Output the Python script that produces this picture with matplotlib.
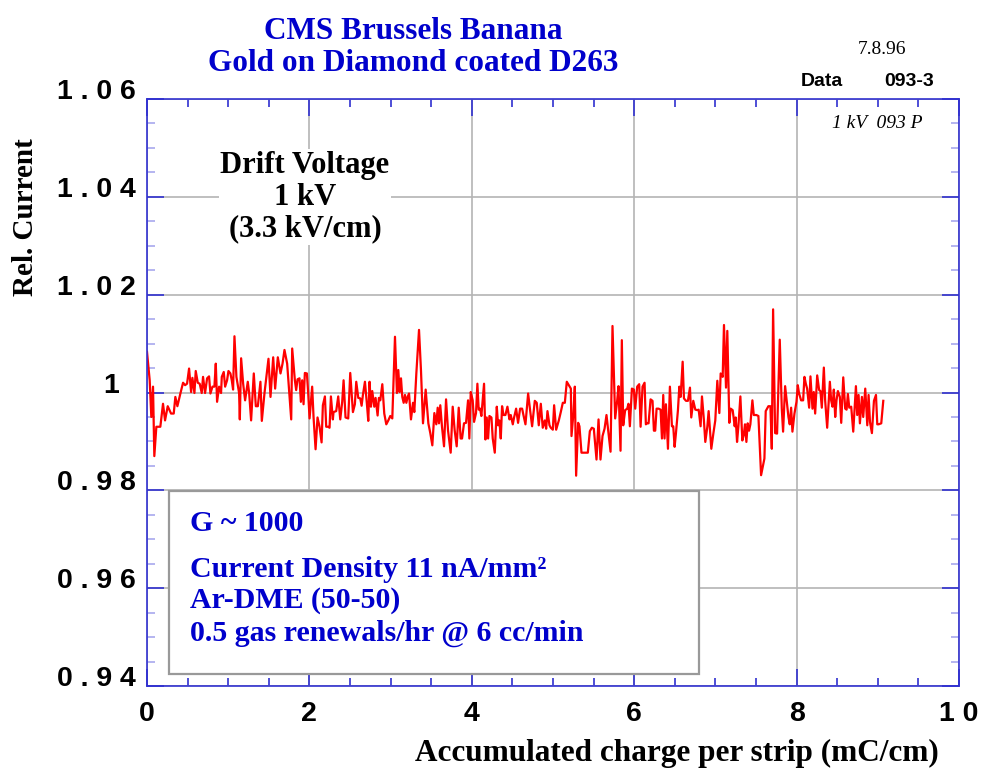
import matplotlib
matplotlib.use("Agg")
import matplotlib.pyplot as plt
from matplotlib.patches import Rectangle
from matplotlib.ticker import FixedLocator, FixedFormatter, MultipleLocator

# relative current vs accumulated charge in five pieces
seg1_x = [0.000, 0.033, 0.053, 0.074, 0.090, 0.115, 0.148, 0.164, 0.197, 0.222, 0.255, 0.296, 0.329, 0.349,
          0.374, 0.411, 0.444, 0.469, 0.493, 0.518, 0.543, 0.559, 0.584, 0.600, 0.625, 0.649, 0.674, 0.690,
          0.715, 0.740, 0.764, 0.781, 0.806, 0.830, 0.847, 0.863, 0.888, 0.912, 0.921, 0.945, 0.962, 0.986,
          1.003, 1.027, 1.044, 1.060, 1.077, 1.101, 1.134, 1.143, 1.159, 1.184, 1.208, 1.241, 1.258, 1.282,
          1.315, 1.340, 1.365, 1.397, 1.414, 1.447, 1.471, 1.496, 1.521, 1.554, 1.578, 1.611, 1.644, 1.669,
          1.693, 1.726, 1.776, 1.788]
seg1_y = [1.0083, 1.0025, 0.9950, 1.0012, 0.9870, 0.9930, 0.9930, 0.9930, 0.9977, 0.9943, 0.9972, 0.9957,
          0.9957, 0.9991, 0.9972, 0.9998, 1.0020, 1.0015, 1.0018, 1.0049, 1.0001, 1.0030, 0.9999, 1.0044,
          1.0020, 1.0018, 0.9999, 1.0032, 0.9999, 1.0029, 1.0033, 0.9998, 1.0012, 1.0012, 1.0059, 0.9981,
          1.0012, 0.9999, 1.0032, 1.0042, 1.0012, 1.0025, 1.0044, 1.0039, 1.0025, 1.0006, 1.0115, 1.0032,
          0.9999, 0.9945, 1.0070, 1.0018, 0.9984, 1.0022, 0.9999, 0.9943, 1.0039, 0.9972, 0.9972, 1.0022,
          0.9942, 0.9999, 1.0033, 1.0069, 0.9991, 1.0072, 1.0008, 1.0072, 1.0039, 1.0059, 1.0087, 1.0059,
          0.9945, 1.0090]

seg2_x = [1.821, 1.837, 1.854, 1.878, 1.895, 1.911, 1.928, 1.944, 1.969, 1.985, 2.002, 2.034, 2.051, 2.076,
          2.100, 2.125, 2.150, 2.166, 2.191, 2.207, 2.232, 2.248, 2.265, 2.289, 2.297, 2.330, 2.355, 2.380,
          2.404, 2.421, 2.445, 2.478, 2.503, 2.536, 2.560, 2.577, 2.602, 2.626, 2.643, 2.659, 2.684, 2.708,
          2.725, 2.741, 2.758, 2.774, 2.799, 2.815, 2.840, 2.856, 2.873, 2.898, 2.922, 2.947, 2.972, 2.996,
          3.021, 3.054, 3.078, 3.095, 3.111, 3.128, 3.144, 3.161, 3.177, 3.194, 3.210, 3.227, 3.251, 3.276,
          3.292, 3.317, 3.350, 3.374, 3.399, 3.432, 3.465, 3.489, 3.514, 3.539, 3.563, 3.580, 3.596, 3.612]
seg2_y = [1.0025, 1.0005, 1.0027, 1.0029, 0.9981, 1.0025, 0.9976, 1.0040, 1.0039, 0.9999, 0.9947, 1.0012,
          0.9950, 0.9884, 0.9949, 0.9930, 0.9898, 0.9974, 0.9992, 0.9930, 0.9930, 0.9928, 0.9992, 0.9945,
          0.9960, 0.9962, 0.9992, 0.9945, 0.9981, 1.0025, 0.9949, 0.9947, 1.0040, 0.9960, 0.9976, 1.0022,
          0.9989, 0.9988, 0.9973, 0.9995, 1.0022, 0.9977, 0.9942, 1.0022, 0.9971, 1.0003, 0.9971, 0.9989,
          0.9953, 0.9989, 0.9984, 1.0017, 0.9957, 0.9935, 0.9943, 0.9952, 0.9947, 1.0114, 0.9999, 1.0046,
          1.0001, 1.0029, 0.9991, 0.9979, 0.9995, 0.9979, 0.9991, 0.9998, 0.9945, 0.9979, 0.9960, 1.0039,
          1.0128, 1.0046, 0.9937, 1.0006, 0.9937, 0.9917, 0.9892, 0.9958, 0.9935, 0.9969, 0.9937, 0.9974]

seg3_x = [3.633, 3.658, 3.683, 3.707, 3.740, 3.765, 3.789, 3.814, 3.839, 3.863, 3.880, 3.904, 3.929, 3.954,
          3.970, 3.987, 4.011, 4.028, 4.052, 4.069, 4.085, 4.102, 4.118, 4.151, 4.168, 4.184, 4.201, 4.217,
          4.242, 4.258, 4.283, 4.308, 4.324, 4.340, 4.357, 4.373, 4.390, 4.414, 4.439, 4.464, 4.480, 4.505,
          4.521, 4.546, 4.570, 4.595, 4.620, 4.636, 4.661, 4.694, 4.718, 4.743, 4.776, 4.800, 4.825, 4.850,
          4.874, 4.899, 4.916, 4.932, 4.957, 4.973, 4.998, 5.014, 5.039, 5.072, 5.096, 5.121, 5.146, 5.170,
          5.195, 5.220, 5.228, 5.252, 5.269, 5.285, 5.310, 5.326, 5.351, 5.392]
seg3_y = [0.9930, 0.9890, 0.9986, 0.9923, 0.9877, 0.9971, 0.9923, 0.9890, 0.9969, 0.9906, 0.9906, 0.9937,
          0.9938, 0.9984, 0.9906, 1.0001, 0.9984, 0.9940, 0.9958, 1.0018, 0.9965, 0.9967, 0.9952, 1.0018,
          0.9904, 0.9949, 0.9906, 0.9952, 0.9949, 0.9906, 0.9877, 0.9971, 0.9933, 0.9943, 0.9906, 0.9972,
          0.9954, 0.9954, 0.9971, 0.9945, 0.9954, 0.9935, 0.9949, 0.9967, 0.9938, 0.9967, 0.9967, 0.9954,
          0.9935, 0.9998, 0.9964, 0.9931, 0.9983, 0.9979, 0.9933, 0.9977, 0.9928, 0.9943, 0.9926, 0.9962,
          0.9933, 0.9928, 0.9924, 0.9974, 0.9924, 0.9943, 0.9960, 0.9979, 0.9979, 1.0022, 1.0015, 1.0008,
          0.9911, 0.9958, 1.0012, 0.9830, 0.9938, 0.9931, 0.9877, 0.9877]

seg4_x = [5.429, 5.454, 5.479, 5.503, 5.536, 5.561, 5.585, 5.610, 5.635, 5.659, 5.684, 5.709, 5.733, 5.766,
          5.791, 5.807, 5.832, 5.848, 5.865, 5.889, 5.914, 5.930, 5.947, 5.972, 5.996, 6.013, 6.037, 6.062,
          6.079, 6.103, 6.128, 6.144, 6.161, 6.177, 6.202, 6.226, 6.243, 6.259, 6.276, 6.301, 6.325, 6.342,
          6.358, 6.374, 6.391, 6.416, 6.440, 6.465, 6.481, 6.498, 6.514, 6.539, 6.556, 6.572, 6.597, 6.613,
          6.638, 6.662, 6.687, 6.703, 6.728, 6.753, 6.777, 6.794, 6.818, 6.835, 6.859, 6.876, 6.901, 6.917,
          6.950, 6.975, 6.999, 7.024, 7.049, 7.065, 7.090, 7.106, 7.131, 7.147, 7.172, 7.188, 7.213, 7.238]
seg4_y = [0.9877, 0.9921, 0.9928, 0.9926, 0.9863, 0.9945, 0.9863, 0.9911, 0.9926, 0.9954, 0.9916, 0.9879,
          1.0136, 0.9947, 0.9984, 1.0013, 0.9881, 1.0107, 0.9933, 0.9964, 0.9967, 0.9977, 0.9931, 1.0008,
          1.0006, 0.9967, 1.0012, 1.0017, 0.9930, 1.0012, 1.0020, 0.9935, 0.9937, 0.9937, 0.9986, 0.9983,
          0.9922, 0.9922, 0.9967, 0.9967, 0.9965, 0.9906, 0.9995, 0.9906, 0.9976, 0.9885, 1.0012, 0.9931,
          0.9931, 0.9889, 0.9916, 0.9964, 1.0012, 0.9991, 1.0063, 0.9988, 0.9983, 0.9983, 1.0010, 0.9949,
          0.9983, 0.9965, 0.9964, 0.9965, 0.9931, 0.9992, 0.9943, 0.9899, 0.9930, 0.9962, 0.9885, 0.9916,
          0.9943, 1.0024, 0.9958, 1.0039, 1.0032, 1.0138, 1.0010, 1.0126, 0.9938, 0.9967, 0.9964, 0.9931]

seg5_x = [7.250, 7.267, 7.283, 7.308, 7.332, 7.349, 7.365, 7.382, 7.398, 7.415, 7.431, 7.456, 7.473, 7.505,
          7.530, 7.563, 7.587, 7.604, 7.620, 7.653, 7.678, 7.695, 7.711, 7.736, 7.760, 7.793, 7.818, 7.834,
          7.859, 7.875, 7.900, 7.916, 7.933, 7.949, 7.974, 7.999, 8.015, 8.031, 8.056, 8.081, 8.097, 8.114,
          8.130, 8.155, 8.171, 8.196, 8.212, 8.229, 8.254, 8.278, 8.294, 8.311, 8.336, 8.352, 8.377, 8.410,
          8.426, 8.443, 8.459, 8.476, 8.492, 8.509, 8.533, 8.550, 8.575, 8.599, 8.616, 8.632, 8.649, 8.673,
          8.698, 8.731, 8.747, 8.764, 8.780, 8.805, 8.821, 8.846, 8.871, 8.887, 8.904, 8.928, 8.953, 8.978,
          8.994, 9.010, 9.043, 9.068]
seg5_y = [0.9949, 0.9899, 0.9930, 0.9992, 0.9902, 0.9913, 0.9935, 0.9899, 0.9937, 0.9922, 0.9935, 0.9984,
          0.9954, 0.9954, 0.9952, 0.9831, 0.9851, 0.9865, 0.9962, 0.9972, 0.9972, 0.9885, 1.0170, 0.9917,
          0.9916, 1.0108, 0.9967, 0.9920, 1.0013, 0.9988, 0.9950, 0.9935, 0.9969, 0.9920, 0.9957, 0.9981,
          1.0015, 0.9998, 0.9984, 0.9984, 1.0032, 1.0018, 1.0008, 0.9969, 1.0033, 0.9967, 1.0001, 0.9957,
          1.0035, 1.0005, 1.0003, 0.9969, 1.0051, 0.9984, 0.9928, 1.0022, 0.9984, 0.9971, 1.0006, 0.9950,
          0.9984, 1.0003, 0.9991, 0.9938, 1.0031, 0.9967, 0.9965, 0.9997, 0.9969, 0.9971, 0.9920, 1.0013,
          0.9954, 0.9995, 0.9937, 0.9991, 0.9950, 1.0008, 0.9933, 0.9995, 0.9940, 0.9917, 0.9983, 0.9995,
          0.9935, 0.9935, 0.9937, 0.9983]

x_ticks = [0, 2, 4, 6, 8, 10]
x_tick_labels = ["0", "2", "4", "6", "8", "1 0"]
y_ticks = [0.94, 0.96, 0.98, 1.00, 1.02, 1.04, 1.06]
y_tick_labels = ["0 . 9 4", "0 . 9 6", "0 . 9 8", "1  ", "1 . 0 2", "1 . 0 4", "1 . 0 6"]

info_lines = ["G ~ 1000", "Current Density 11 nA/mm²", "Ar-DME (50-50)", "0.5 gas renewals/hr @ 6 cc/min"]

charge = seg1_x + seg2_x + seg3_x + seg4_x + seg5_x
current = seg1_y + seg2_y + seg3_y + seg4_y + seg5_y

BLUE = "#0000cc"
AXBLUE = "#3030d0"
SERIF = "Liberation Serif"
SANS = "Liberation Sans"

fig = plt.figure(figsize=(9.88, 7.71), dpi=100)
ax = fig.add_axes([0.1488, 0.1102, 0.8218, 0.7614])

ax.plot(charge, current, color="#ff0000", lw=1.6, zorder=2)

ax.set_xlim(0, 10)
ax.set_ylim(0.94, 1.06)
ax.xaxis.set_major_locator(FixedLocator(x_ticks))
ax.xaxis.set_major_formatter(FixedFormatter(x_tick_labels))
ax.xaxis.set_minor_locator(MultipleLocator(0.5))
ax.yaxis.set_major_locator(FixedLocator(y_ticks))
ax.yaxis.set_major_formatter(FixedFormatter(y_tick_labels))
ax.yaxis.set_minor_locator(MultipleLocator(0.005))

ax.grid(True, which="major", color="#b4b4b4", lw=1.2)
ax.set_axisbelow(True)
for sp in ax.spines.values():
    sp.set_color(AXBLUE)
    sp.set_linewidth(1.2)

ax.tick_params(which="both", direction="in", top=True, right=True, color=AXBLUE)
ax.tick_params(which="major", length=12, width=1.2)
ax.tick_params(which="minor", length=6, width=1.2)
ax.tick_params(axis="y", which="minor", color="#a8a8ee")
ax.tick_params(axis="y", which="major", pad=8)
ax.tick_params(axis="x", which="major", pad=11)
for lbl in ax.get_xticklabels() + ax.get_yticklabels():
    lbl.set_fontfamily(SANS)
    lbl.set_fontweight("bold")
    lbl.set_fontsize(20.5)
for lbl in ax.get_yticklabels():
    lbl.set_verticalalignment("baseline")

# drift voltage note, white background hides the grid
ax.text(0.1946, 0.833, "Drift Voltage\n1 kV\n(3.3 kV/cm)", transform=ax.transAxes,
        ha="center", va="center", multialignment="center", linespacing=1.13,
        family=SERIF, weight="bold", fontsize=22, color="black",
        bbox=dict(facecolor="white", edgecolor="none", pad=1), zorder=3)

ax.text(0.844, 0.951, "1 kV  093 P", transform=ax.transAxes, ha="left", va="baseline",
        family=SERIF, style="italic", fontsize=14)

# conditions box
ax.add_patch(Rectangle((0.027, 0.020), 0.653, 0.312, transform=ax.transAxes,
                       facecolor="white", edgecolor="#999999", lw=1.6, zorder=3))
for txt, yy in zip(info_lines, [0.264, 0.186, 0.133, 0.078]):
    ax.text(0.053, yy, txt, transform=ax.transAxes, ha="left", va="baseline",
            family=SERIF, weight="bold", fontsize=21.5, color=BLUE, zorder=4)

fig.text(0.418, 0.949, "CMS Brussels Banana", ha="center", va="baseline",
         family=SERIF, weight="bold", fontsize=22.5, color=BLUE)
fig.text(0.418, 0.908, "Gold on Diamond coated D263", ha="center", va="baseline",
         family=SERIF, weight="bold", fontsize=22.5, color=BLUE)
fig.text(0.893, 0.930, "7.8.96", ha="center", va="baseline", family=SERIF, fontsize=14)
fig.text(0.810, 0.888, "Data", ha="left", va="baseline", family=SANS, weight="bold", fontsize=14)
fig.text(0.895, 0.888, "093-3", ha="left", va="baseline", family=SANS, weight="bold", fontsize=14)

fig.text(0.420, 0.0125, "Accumulated charge per strip (mC/cm)", ha="left", va="baseline",
         family=SERIF, weight="bold", fontsize=22.5)
fig.text(0.026, 0.719, "Rel. Current", ha="center", va="center", rotation=90,
         family=SERIF, weight="bold", fontsize=21)

fig.savefig("out.png", dpi=100)
